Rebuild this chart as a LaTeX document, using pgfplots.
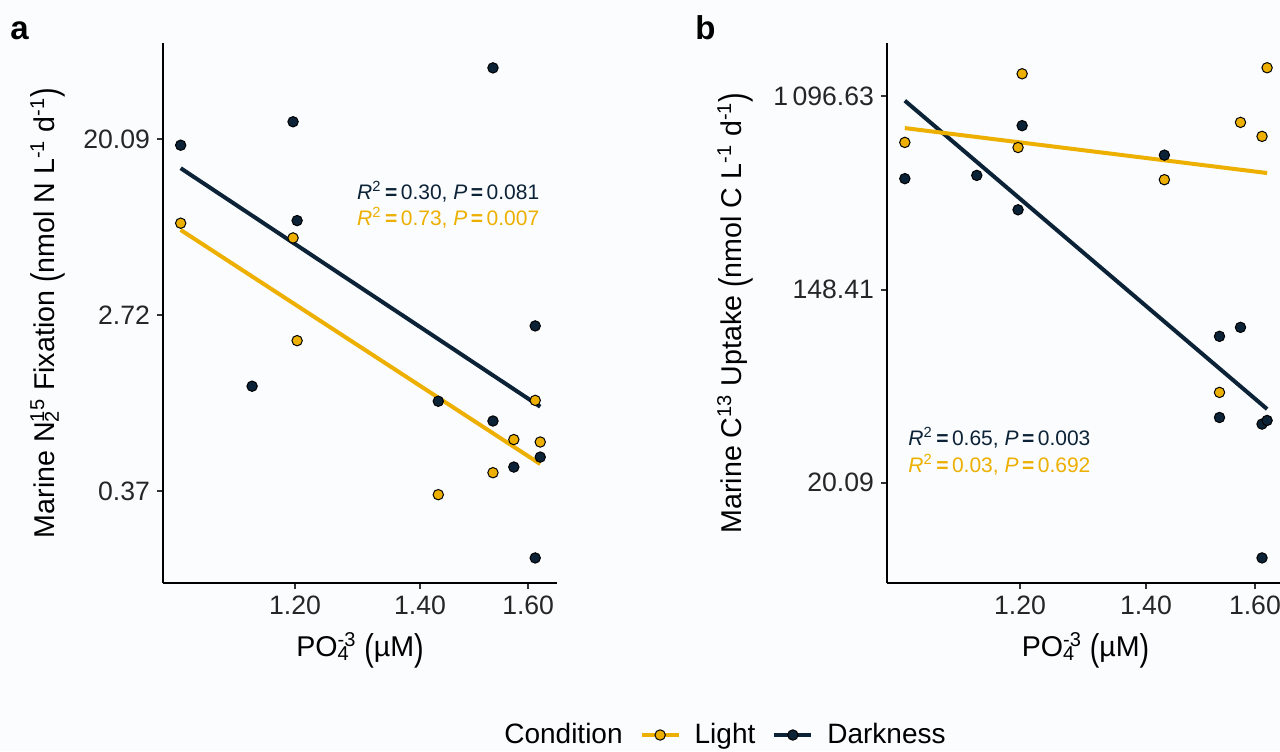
\documentclass[border=0pt]{standalone}
\usepackage{fontspec}
\setmainfont{Liberation Sans}
\usepackage{pgfplots}
\pgfplotsset{compat=1.18}

\definecolor{lightc}{HTML}{EDB000}
\definecolor{darkc}{HTML}{0C2237}
\definecolor{bgc}{HTML}{FAFCFD}

\newcommand{\stat}[2]{{\itshape R}\textsuperscript{2}\,\textbf{=}\,#1, {\itshape P}\,\textbf{=}\,#2}
\newcommand{\tallp}[1]{\raisebox{-0.12em}{\scalebox{1}[1.3]{#1}}}

\begin{document}
\begin{tikzpicture}
\fill[bgc] (0,0) rectangle (640pt,375.5pt);
\path[use as bounding box] (0,0) rectangle (640pt,375.5pt);

\node[anchor=base west, inner sep=0pt, font=\bfseries\fontsize{16.5}{18}\selectfont] at (5pt,355.5pt) {a};
\node[anchor=base west, inner sep=0pt, font=\bfseries\fontsize{16.5}{18}\selectfont] at (347.5pt,355.5pt) {b};

% panel a: N2 fixation
\begin{axis}[at={(81.5pt,84pt)}, anchor=south west,
  scale only axis, width=197pt, height=270pt,
  xmode=log, ymode=log,
  xmin=1.0195, xmax=1.658, ymin=0.1294, ymax=59.7,
  axis lines=left,
  axis line style={-, line width=1.4pt, black},
  tick align=outside, major tick length=3pt,
  tick style={line width=0.9pt, black!80},
  xtick={1.2,1.4,1.6}, xticklabels={1.20,1.40,1.60},
  ytick={0.3679,2.7183,20.0855}, yticklabels={0.37,2.72,20.09},
  ticklabel style={font=\fontsize{13.3}{15}\selectfont, text=black!85},
  label style={font=\fontsize{14.3}{16}\selectfont},
  xlabel={PO\rlap{\textsubscript{4}}\textsuperscript{-3} \tallp{(}µM\tallp{)}},
  xlabel style={at={(axis description cs:0.5,-0.124)}, anchor=center},
  ylabel={Marine N\rlap{\textsubscript{2}}\textsuperscript{15} Fixation \tallp{(}nmol N L\textsuperscript{-1} d\textsuperscript{-1}\tallp{)}},
  ylabel style={at={(axis description cs:-0.292,0.5)}, anchor=center},
  clip=false,
]
\addplot[darkc, line width=2pt, no marks] coordinates {(1.042,14.4) (1.624,0.959)};
\addplot[lightc, line width=2pt, no marks] coordinates {(1.042,7.14) (1.624,0.50)};
\addplot[only marks, mark=*, mark size=2.6pt, mark options={fill=lightc, draw=black, line width=0.5pt}] coordinates {
  (1.042,7.71) (1.197,6.52) (1.203,2.03) (1.432,0.353)
  (1.532,0.453) (1.572,0.66) (1.614,1.03) (1.624,0.642)};
\addplot[only marks, mark=*, mark size=2.6pt, mark options={fill=darkc, draw=black, line width=0.5pt}] coordinates {
  (1.042,18.7) (1.138,1.21) (1.197,24.4) (1.203,7.94) (1.432,1.02) (1.532,45.0)
  (1.532,0.815) (1.572,0.483) (1.614,2.40) (1.614,0.172) (1.624,0.541)};
\node[anchor=west, inner sep=0pt, text=darkc, font=\fontsize{10.5}{12}\selectfont] at (rel axis cs:0.492,0.724) {\stat{0.30}{0.081}};
\node[anchor=west, inner sep=0pt, text=lightc, font=\fontsize{10.5}{12}\selectfont] at (rel axis cs:0.492,0.676) {\stat{0.73}{0.007}};
\end{axis}

% panel b: C uptake
\begin{axis}[at={(443.5pt,84pt)}, anchor=south west,
  scale only axis, width=198.5pt, height=270pt,
  xmode=log, ymode=log,
  xmin=1.0195, xmax=1.658, ymin=7.12, ymax=1906,
  axis lines=left,
  axis line style={-, line width=1.4pt, black},
  tick align=outside, major tick length=3pt,
  tick style={line width=0.9pt, black!80},
  xtick={1.2,1.4,1.6}, xticklabels={1.20,1.40,1.60},
  ytick={20.0855,148.4132,1096.6332}, yticklabels={20.09,148.41,1\,096.63},
  ticklabel style={font=\fontsize{13.3}{15}\selectfont, text=black!85},
  label style={font=\fontsize{14.3}{16}\selectfont},
  xlabel={PO\rlap{\textsubscript{4}}\textsuperscript{-3} \tallp{(}µM\tallp{)}},
  xlabel style={at={(axis description cs:0.5,-0.124)}, anchor=center},
  ylabel={Marine C\textsuperscript{13} Uptake \tallp{(}nmol C L\textsuperscript{-1} d\textsuperscript{-1}\tallp{)}},
  ylabel style={at={(axis description cs:-0.383,0.5)}, anchor=center},
  clip=false,
  legend style={at={(axis description cs:-0.4207,-0.2815)}, anchor=center,
    draw=none, fill=none, font=\fontsize{14}{16}\selectfont,
    legend columns=3,
    /tikz/every odd column/.append style={column sep=5pt},
    /tikz/every even column/.append style={column sep=6.5pt}},
  legend image code/.code={\draw[mark repeat=2, mark phase=2, #1]
    plot coordinates {(0pt,0pt) (9.25pt,0pt) (18.5pt,0pt)};},
]
\addlegendimage{empty legend}
\addlegendentry{Condition}
\addlegendimage{lightc, line width=2pt, mark=*, mark size=2.6pt,
  mark options={fill=lightc, draw=black, line width=0.5pt}}
\addlegendentry{Light}
\addlegendimage{darkc, line width=2pt, mark=*, mark size=2.6pt,
  mark options={fill=darkc, draw=black, line width=0.5pt}}
\addlegendentry{Darkness}
\addplot[darkc, line width=2pt, no marks, forget plot] coordinates {(1.042,1049) (1.624,43.1)};
\addplot[lightc, line width=2pt, no marks, forget plot] coordinates {(1.042,790) (1.624,496)};
\addplot[only marks, mark=*, mark size=2.6pt, mark options={fill=lightc, draw=black, line width=0.5pt}, forget plot] coordinates {
  (1.042,681) (1.197,646) (1.203,1386) (1.432,463)
  (1.532,51.2) (1.572,838) (1.614,725) (1.624,1475)};
\addplot[only marks, mark=*, mark size=2.6pt, mark options={fill=darkc, draw=black, line width=0.5pt}, forget plot] coordinates {
  (1.042,468) (1.138,484) (1.197,339) (1.203,810) (1.432,597) (1.532,91.5)
  (1.532,39.5) (1.572,100.4) (1.614,36.9) (1.614,9.23) (1.624,38.3)};
\node[anchor=west, inner sep=0pt, text=darkc, font=\fontsize{10.5}{12}\selectfont] at (rel axis cs:0.053,0.2685) {\stat{0.65}{0.003}};
\node[anchor=west, inner sep=0pt, text=lightc, font=\fontsize{10.5}{12}\selectfont] at (rel axis cs:0.053,0.2185) {\stat{0.03}{0.692}};
\end{axis}
\end{tikzpicture}
\end{document}
